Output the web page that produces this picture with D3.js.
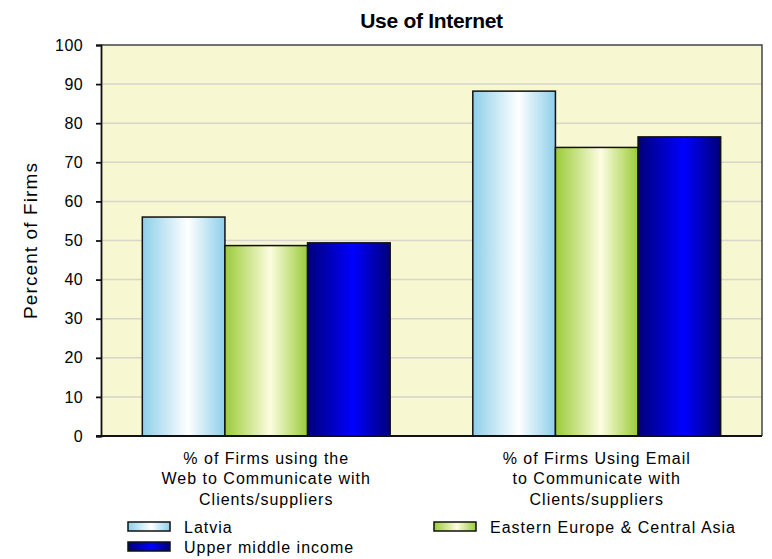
<!DOCTYPE html>
<html>
<head>
<meta charset="utf-8">
<script src="https://cdn.jsdelivr.net/npm/d3@7"></script>
<style>
  html, body { margin: 0; padding: 0; background: #fff; overflow: hidden; }
  svg text { font-family: "Liberation Sans", Arial, sans-serif; fill: #000; }
</style>
</head>
<body>
<svg id="chart" width="772" height="559"></svg>
<script>
// Chart data
const categories = [
  ["% of Firms using the", "Web to Communicate with", "Clients/suppliers"],
  ["% of Firms Using Email", "to Communicate with", "Clients/suppliers"]
];
const seriesNames = ["Latvia", "Eastern Europe & Central Asia", "Upper middle income"];
const latvia = [56.0, 88.2];
const easternEurope = [48.7, 73.8];
const upperMiddle = [49.4, 76.5];
const yTicks = [0, 10, 20, 30, 40, 50, 60, 70, 80, 90, 100];

const series = [latvia, easternEurope, upperMiddle];
const gradients = [
  { id: "gLatvia", edge: "#8ccfea", mid: "#ffffff" },
  { id: "gEca", edge: "#9acb38", mid: "#fdfde0" },
  { id: "gUmi", edge: "#00007a", mid: "#0000ff" }
];

const svg = d3.select("#chart");
const x0 = 101, x1 = 762;
const yTop = 45, yBot = 436;
const labelFont = "'Liberation Sans', Arial, sans-serif";

const defs = svg.append("defs");
gradients.forEach(g => {
  const lg = defs.append("linearGradient").attr("id", g.id)
    .attr("x1", "0%").attr("x2", "100%").attr("y1", "0%").attr("y2", "0%");
  lg.append("stop").attr("offset", "0%").attr("stop-color", g.edge);
  lg.append("stop").attr("offset", "55%").attr("stop-color", g.mid);
  lg.append("stop").attr("offset", "100%").attr("stop-color", g.edge);
});

const catIdx = categories.map((d, i) => i);
const xBand = d3.scaleBand().domain(catIdx).range([x0, x1])
  .paddingInner(0.25).paddingOuter(0.125);
const xSub = d3.scaleBand().domain(d3.range(series.length))
  .range([0, xBand.bandwidth()]);
const y = d3.scaleLinear().domain([0, 100]).range([yBot, yTop]);

// Plot background
svg.append("rect").attr("x", x0).attr("y", yTop)
  .attr("width", x1 - x0).attr("height", yBot - yTop).attr("fill", "#f7f7d2");

// Gridlines
svg.append("g").selectAll("line").data(yTicks.filter(t => t > 0 && t < 100)).join("line")
  .attr("x1", x0).attr("x2", x1)
  .attr("y1", d => y(d)).attr("y2", d => y(d))
  .attr("stroke", "#d6d6cc").attr("stroke-width", 1.5);

// Plot frame (top and right)
svg.append("path")
  .attr("d", `M${x0},${yTop}H${x1}V${yBot}`)
  .attr("fill", "none").attr("stroke", "#444").attr("stroke-width", 1.5);

// Bars
series.forEach((vals, si) => {
  svg.append("g").selectAll("rect").data(vals).join("rect")
    .attr("x", (d, i) => xBand(i) + xSub(si))
    .attr("y", d => y(d))
    .attr("width", xSub.bandwidth())
    .attr("height", d => yBot - y(d))
    .attr("fill", `url(#${gradients[si].id})`)
    .attr("stroke", "#111").attr("stroke-width", 1.5);
});

// Y axis
const yAxis = d3.axisLeft(y).tickValues(yTicks).tickSize(5).tickPadding(13)
  .tickFormat(d3.format("d"));
const yg = svg.append("g").attr("transform", `translate(${x0},0)`).call(yAxis);
yg.select(".domain").attr("stroke", "#111").attr("stroke-width", 1.8);
yg.selectAll(".tick line").attr("stroke", "#111").attr("stroke-width", 1.8);
yg.selectAll(".tick text").attr("font-size", 16)
  .style("font-family", labelFont).style("letter-spacing", "0.4px");

// X baseline
svg.append("line").attr("x1", x0 - 5).attr("x2", x1)
  .attr("y1", yBot).attr("y2", yBot)
  .attr("stroke", "#111").attr("stroke-width", 1.8);

// Category labels
categories.forEach((lines, i) => {
  const cx = xBand(i) + xBand.bandwidth() / 2;
  svg.append("text").attr("text-anchor", "middle").attr("font-size", 16)
    .style("letter-spacing", "1px")
    .selectAll("tspan").data(lines).join("tspan")
    .attr("x", cx).attr("y", (d, k) => 463.5 + k * 20.8).text(d => d);
});

// Title
svg.append("text").attr("x", (x0 + x1) / 2).attr("y", 28)
  .attr("text-anchor", "middle").attr("font-size", 21).attr("font-weight", "bold")
  .style("letter-spacing", "-0.3px")
  .text("Use of Internet");

// Y axis title
svg.append("text")
  .attr("transform", `translate(37,${(yTop + yBot) / 2}) rotate(-90)`)
  .attr("text-anchor", "middle").attr("font-size", 19)
  .style("letter-spacing", "1.1px")
  .text("Percent of Firms");

// Legend
const legendPos = [
  { x: 128, y: 522 },
  { x: 434, y: 522 },
  { x: 128, y: 542 }
];
seriesNames.forEach((name, i) => {
  const p = legendPos[i];
  svg.append("rect").attr("x", p.x).attr("y", p.y)
    .attr("width", 42).attr("height", 9)
    .attr("fill", `url(#${gradients[i].id})`)
    .attr("stroke", "#111").attr("stroke-width", 1.5);
  svg.append("text").attr("x", p.x + 56).attr("y", p.y + 11)
    .attr("font-size", 16).style("letter-spacing", "1px").text(name);
});
</script>
</body>
</html>
